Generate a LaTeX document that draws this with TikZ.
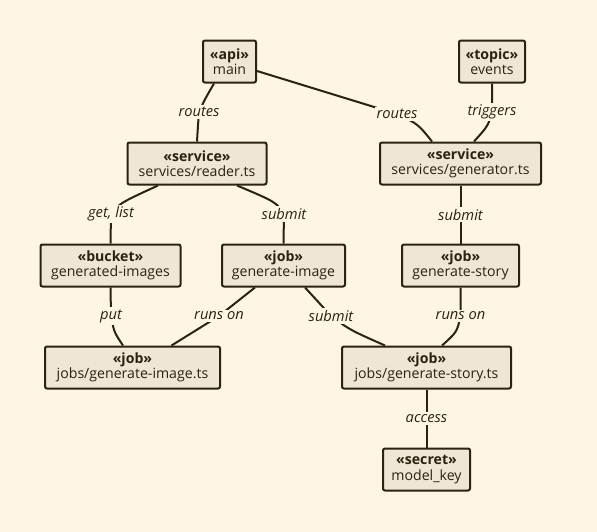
\documentclass[tikz,border=0pt]{standalone}
\usepackage{fontspec}
\setmainfont{Open Sans}
\usetikzlibrary{calc}
\definecolor{bg}{RGB}{253,245,230}
\definecolor{boxfill}{RGB}{238,231,214}
\definecolor{ink}{RGB}{43,34,16}
\tikzset{
  comp/.style={draw=ink, fill=boxfill, line width=1.5pt, rounded corners=1.5pt, minimum height=31.5pt, inner xsep=2pt, inner ysep=2pt, align=center, text=ink, font=\fontsize{10.6}{11.6}\selectfont},
  edge/.style={draw=ink, line width=1.5pt},
  lbl/.style={fill=bg, text=ink, inner sep=1.5pt, font=\fontsize{11}{12}\selectfont\itshape},
}
\newcommand{\stt}[2]{\textbf{«#1»}\\#2}
\begin{document}
\begin{tikzpicture}[x=0.75pt,y=-0.75pt]
\fill[bg] (0,0) rectangle (597,532);
\useasboundingbox (0,0) rectangle (597,532);
\node[comp, minimum width=39.75pt] (main) at (229.5,61.5) {\stt{api}{main}};
\node[comp, minimum width=49.5pt] (events) at (492,61.5) {\stt{topic}{events}};
\node[comp, minimum width=104.25pt] (reader) at (197,163.5) {\stt{service}{services/reader.ts}};
\node[comp, minimum width=120.75pt] (generator) at (460.5,163.5) {\stt{service}{services/generator.ts}};
\node[comp, minimum width=105pt] (bucket) at (110.5,265.5) {\stt{bucket}{generated-images}};
\node[comp, minimum width=92.25pt] (genimg) at (283.5,265.5) {\stt{job}{generate-image}};
\node[comp, minimum width=87.75pt] (genstory) at (460.5,265.5) {\stt{job}{generate-story}};
\node[comp, minimum width=131.25pt] (jgi) at (132.5,367.5) {\stt{job}{jobs/generate-image.ts}};
\node[comp, minimum width=126.75pt] (jgs) at (426.5,367.5) {\stt{job}{jobs/generate-story.ts}};
\node[comp, minimum width=65.25pt] (secret) at (426.5,469.5) {\stt{secret}{model\_key}};

\draw[edge] ($(main.south)+(-15.5,0)$) .. controls (205,99) .. (199,112) node[lbl]{routes} .. controls (198,125) .. (reader.north);
\draw[edge] ($(main.east)+(0,9.5)$) -- (397,114) node[lbl]{routes} .. controls (418,124) .. ($(generator.north)+(-28.5,0)$);
\draw[edge] (events.south) -- (492,112) node[lbl]{triggers} .. controls (488,126) .. ($(generator.north)+(13.5,0)$);
\draw[edge] ($(reader.south)+(-39,0)$) .. controls (120,203) .. (111,214) node[lbl]{get, list} .. controls (110.5,228) .. (bucket.north);
\draw[edge] ($(reader.south)+(40,0)$) .. controls (276,202) .. (284,214) node[lbl]{submit} .. controls (283.5,228) .. (genimg.north);
\draw[edge] (generator.south) -- node[lbl]{submit} (genstory.north);
\draw[edge] (bucket.south) -- (111,316) node[lbl]{put} .. controls (114,332) .. ($(jgi.north)+(-9.5,0)$);
\draw[edge] ($(genimg.south)+(-28.5,0)$) -- (219,316) node[lbl]{runs on} -- ($(jgi.north)+(39,0)$);
\draw[edge] ($(genimg.south)+(21.5,0)$) .. controls (322,306) .. (331,316) node[lbl]{submit} .. controls (350,330) .. ($(jgs.north)+(-41.5,0)$);
\draw[edge] (genstory.south) -- (460.5,316) node[lbl]{runs on} .. controls (457,332) .. ($(jgs.north)+(15.5,0)$);
\draw[edge] (jgs.south) -- node[lbl]{access} (secret.north);
\end{tikzpicture}
\end{document}
